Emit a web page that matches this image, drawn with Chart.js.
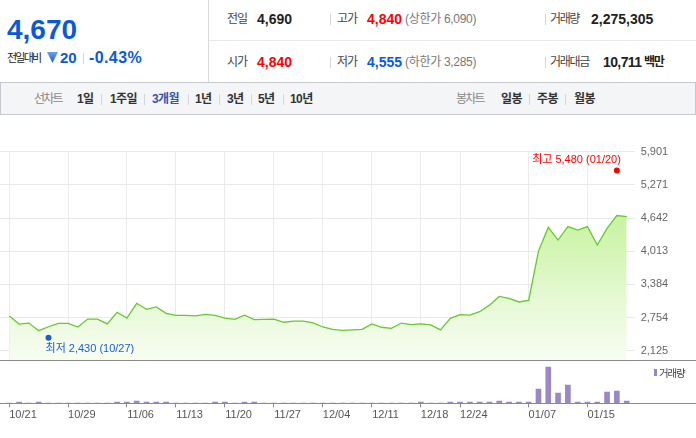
<!DOCTYPE html>
<html lang="ko">
<head>
<meta charset="utf-8">
<title>주가 차트</title>
<script src="https://cdn.jsdelivr.net/npm/chart.js@4.4.1/dist/chart.umd.min.js"></script>
<style>
  html, body { margin: 0; padding: 0; }
  body {
    width: 696px; height: 438px; overflow: hidden; position: relative; background: #fff;
    font-family: "Liberation Sans", "Noto Sans CJK KR", sans-serif; color: #333;
  }
  .t { position: absolute; white-space: nowrap; line-height: 20px; height: 20px; font-size: 12px; }
  .b { font-weight: bold; }
  .lbl { color: #444; letter-spacing: -1px; }
  .num { font-size: 14px; font-weight: bold; color: #222; }
  .sub { color: #777; letter-spacing: -0.3px; }
  .tb { font-weight: bold; color: #333; letter-spacing: -0.6px; }
  .sep { position: absolute; width: 1px; height: 11px; background: #d6d6d6; }
  .rule { position: absolute; left: 0; width: 696px; height: 1px; background: #8a8a8a; }
  canvas { position: absolute; left: 0; }
</style>
</head>
<body>

<!-- 시세 요약 -->
<div style="position:absolute;left:208px;top:0;width:1px;height:82px;background:#d9d9d9"></div>
<div style="position:absolute;left:209px;top:40px;width:487px;height:1px;background:#e9e9e9"></div>

<div class="t b" style="left:7px;top:15px;font-size:28px;line-height:30px;height:30px;color:#0a5ad6">4,670</div>
<div class="t" style="left:7px;top:48px;font-size:11px;letter-spacing:-1.8px;color:#222">전일대비</div>
<div style="position:absolute;left:47px;top:52px;width:11px;height:11px;clip-path:polygon(0 0,100% 0,50% 100%);background:linear-gradient(#6f9fe9,#1a5dd0)"></div>
<div class="t b" style="left:60px;top:48px;font-size:15px;color:#0a5ad6">20</div>
<div class="sep" style="left:83px;top:53px"></div>
<div class="t b" style="left:89px;top:48px;font-size:16px;letter-spacing:0.4px;color:#0a5ad6">-0.43%</div>

<div class="t lbl" style="left:227px;top:9px">전일</div>
<div class="t num" style="left:257px;top:9px">4,690</div>
<div class="sep" style="left:330px;top:14px"></div>
<div class="t lbl" style="left:337px;top:9px">고가</div>
<div class="t num" style="left:367px;top:9px;color:#f00">4,840</div>
<div class="t sub" style="left:405px;top:9px">(상한가 6,090)</div>
<div class="sep" style="left:545px;top:14px"></div>
<div class="t lbl" style="left:550px;top:9px;letter-spacing:-1.4px">거래량</div>
<div class="t num" style="left:591px;top:9px">2,275,305</div>

<div class="t lbl" style="left:227px;top:52px">시가</div>
<div class="t num" style="left:257px;top:52px;color:#f00">4,840</div>
<div class="sep" style="left:330px;top:57px"></div>
<div class="t lbl" style="left:337px;top:52px">저가</div>
<div class="t num" style="left:367px;top:52px;color:#0a5ad6">4,555</div>
<div class="t sub" style="left:405px;top:52px">(하한가 3,285)</div>
<div class="sep" style="left:545px;top:57px"></div>
<div class="t lbl" style="left:550px;top:52px;letter-spacing:-1.3px">거래대금</div>
<div class="t num" style="left:603px;top:52px;letter-spacing:-0.6px">10,711</div>
<div class="t b" style="left:644px;top:52px;letter-spacing:-1.2px;color:#222">백만</div>

<!-- 기간 / 차트 종류 -->
<div style="position:absolute;left:0;top:82px;width:694px;height:31px;background:#f4f5f7;border:1px solid #c6c8ce"></div>
<div class="t" style="left:34px;top:89px;color:#888;letter-spacing:-1.8px">선차트</div>
<div class="t tb" style="left:77px;top:89px">1일</div>
<div class="sep" style="left:101px;top:94px"></div>
<div class="t tb" style="left:110px;top:89px">1주일</div>
<div class="sep" style="left:144px;top:94px"></div>
<div class="t tb" style="left:152px;top:89px;color:#3654ad">3개월</div>
<div class="sep" style="left:188px;top:94px"></div>
<div class="t tb" style="left:195px;top:89px">1년</div>
<div class="sep" style="left:219px;top:94px"></div>
<div class="t tb" style="left:227px;top:89px">3년</div>
<div class="sep" style="left:251px;top:94px"></div>
<div class="t tb" style="left:258px;top:89px">5년</div>
<div class="sep" style="left:283px;top:94px"></div>
<div class="t tb" style="left:290px;top:89px">10년</div>

<div class="t" style="left:456px;top:89px;color:#888;letter-spacing:-1.8px">봉차트</div>
<div class="t tb" style="left:501px;top:89px">일봉</div>
<div class="sep" style="left:529px;top:94px"></div>
<div class="t tb" style="left:537px;top:89px">주봉</div>
<div class="sep" style="left:565px;top:94px"></div>
<div class="t tb" style="left:574px;top:89px">월봉</div>

<canvas id="price" width="696" height="247" style="top:115px"></canvas>
<canvas id="volume" width="696" height="77" style="top:361px"></canvas>
<div class="rule" style="top:360px"></div>
<div class="rule" style="top:403px"></div>

<div style="position:absolute;left:654px;top:369px;width:3px;height:7px;background:#9b87c6"></div>
<div class="t" style="left:659px;top:363px;font-size:10.5px;letter-spacing:-1.2px;color:#444">거래량</div>

<script>
// 2020-10-21 ~ 2021-01-21 거래일
const dates = [
  '10/21', '10/22', '10/23', '10/26', '10/27', '10/28', '10/29', '10/30',
  '11/02', '11/03', '11/04', '11/05', '11/06', '11/09', '11/10', '11/11', '11/12', '11/13',
  '11/16', '11/17', '11/18', '11/19', '11/20', '11/23', '11/24', '11/25', '11/26', '11/27', '11/30',
  '12/01', '12/02', '12/03', '12/04', '12/07', '12/08', '12/09', '12/10', '12/11',
  '12/14', '12/15', '12/16', '12/17', '12/18', '12/21', '12/22', '12/23', '12/24',
  '12/28', '12/29', '12/30',
  '01/04', '01/05', '01/06', '01/07', '01/08', '01/11', '01/12', '01/13', '01/14', '01/15',
  '01/18', '01/19', '01/20', '01/21'
];

// 종가
const closes = [
  2785, 2630, 2650, 2505, 2580, 2645, 2645, 2575,
  2725, 2725, 2635, 2855, 2745, 3025, 2910, 2955, 2835, 2795,
  2795, 2785, 2815, 2795, 2745, 2720, 2800, 2715, 2720, 2725, 2665,
  2685, 2685, 2655, 2575, 2530, 2510, 2520, 2530, 2635,
  2570, 2550, 2650, 2620, 2635, 2615, 2520, 2740, 2810,
  2800, 2865, 2990,
  3155, 3120, 3050, 3080, 4015, 4465, 4225, 4480, 4415, 4480,
  4130, 4445, 4690, 4670
];

// 거래량
const volumes = [
  150000, 1200000, 150000, 1200000, 150000, 150000, 150000, 150000,
  150000, 150000, 150000, 1200000, 1300000, 2300000, 1200000, 1200000, 1200000, 150000,
  150000, 150000, 150000, 1200000, 1200000, 150000, 1200000, 1200000, 150000, 150000, 150000,
  150000, 150000, 150000, 150000, 150000, 150000, 150000, 150000, 150000,
  150000, 150000, 150000, 150000, 1200000, 150000, 150000, 1200000, 1200000,
  1200000, 1200000, 1200000,
  2300000, 1200000, 1200000, 1200000, 14300000, 36300000, 10300000, 18300000, 1200000, 1200000,
  1200000, 11300000, 12300000, 2275305
];

const dateTicks = ['10/21', '10/29', '11/06', '11/13', '11/20', '11/27', '12/04', '12/11', '12/18', '12/24', '01/07', '01/15'];
const priceTicks = [2125, 2754, 3384, 4013, 4642, 5271, 5901];

const highPrice = 5480, highDate = '01/20';
const lowPrice = 2430, lowDate = '10/27';

const tickIdx = dateTicks.map(d => dates.indexOf(d));
const fmt = v => v.toLocaleString('en-US');
const FONT = '"Liberation Sans", "Noto Sans CJK KR", sans-serif';

// 축 크기를 고정해서 두 차트의 x 위치를 맞춤
function fixSize(w, h) {
  return s => {
    if (w != null) s.width = w;
    if (h != null) s.height = h;
    s.paddingLeft = s.paddingRight = s.paddingTop = s.paddingBottom = 0;
  };
}

function areaFill(c) {
  const a = c.chart.chartArea;
  if (!a) return 'rgba(0,0,0,0)';
  const g = c.chart.ctx.createLinearGradient(0, a.top, 0, a.bottom);
  g.addColorStop(0, '#b6ed82');
  g.addColorStop(0.35, '#cbf3a5');
  g.addColorStop(0.7, '#e5f9d3');
  g.addColorStop(1, '#f8fdf3');
  return g;
}

// 최고/최저 표시
const hiLoMarks = {
  id: 'hiLoMarks',
  afterDatasetsDraw(chart) {
    const { ctx, scales: { x, y } } = chart;
    const marks = [
      { d: highDate, p: highPrice, name: '최고', color: '#f00', dy: -3.5, align: 'right', tx: 4, ty: -10.5 },
      { d: lowDate, p: lowPrice, name: '최저', color: '#1a5fd3', dy: 3, align: 'left', tx: -3, ty: 11 }
    ];
    ctx.save();
    ctx.font = '11px ' + FONT;
    ctx.textBaseline = 'middle';
    marks.forEach(m => {
      const px = x.getPixelForValue(dates.indexOf(m.d));
      const py = y.getPixelForValue(m.p) + m.dy;
      ctx.fillStyle = m.color;
      ctx.beginPath();
      ctx.arc(px, py, 3, 0, Math.PI * 2);
      ctx.fill();
      ctx.textAlign = m.align;
      ctx.fillText(m.name + ' ' + fmt(m.p) + ' (' + m.d + ')', px + m.tx, py + m.ty);
    });
    ctx.restore();
  }
};

const xMin = -0.95, xMax = dates.length - 1 + 0.82;

new Chart(document.getElementById('price'), {
  type: 'line',
  data: {
    datasets: [{
      data: closes.map((c, i) => ({ x: i, y: c })),
      borderColor: '#66c92f',
      borderWidth: 1.3,
      pointRadius: 0,
      tension: 0,
      fill: 'start',
      backgroundColor: areaFill
    }]
  },
  options: {
    responsive: false,
    animation: false,
    layout: { padding: { top: 36.7, left: 0, right: 0, bottom: 0 } },
    plugins: { legend: { display: false }, tooltip: { enabled: false } },
    scales: {
      x: {
        type: 'linear', min: xMin, max: xMax,
        afterBuildTicks: s => { s.ticks = tickIdx.map(v => ({ value: v })); },
        ticks: { display: false },
        grid: { color: '#ebebeb', drawTicks: false },
        border: { display: false },
        afterFit: fixSize(null, 2)
      },
      y: {
        position: 'right', min: 1949, max: 5901,
        afterBuildTicks: s => { s.ticks = priceTicks.map(v => ({ value: v })); },
        ticks: { padding: 6, color: '#666', font: { size: 11, family: FONT }, callback: v => fmt(v) },
        grid: { color: '#e9e9e9', drawTicks: false },
        border: { display: false },
        afterFit: fixSize(61.3, null)
      }
    }
  },
  plugins: [hiLoMarks]
});

new Chart(document.getElementById('volume'), {
  type: 'bar',
  data: {
    datasets: [{
      data: volumes.map((v, i) => ({ x: i, y: v })),
      backgroundColor: '#9b87c6',
      barThickness: 5
    }]
  },
  options: {
    responsive: false,
    animation: false,
    layout: { padding: 0 },
    plugins: { legend: { display: false }, tooltip: { enabled: false } },
    scales: {
      x: {
        type: 'linear', min: xMin, max: xMax, offset: false,
        afterBuildTicks: s => { s.ticks = tickIdx.map(v => ({ value: v })); },
        ticks: {
          labelOffset: 13.7, padding: 1.5, color: '#555', maxRotation: 0, autoSkip: false,
          font: { size: 11, family: FONT },
          callback: v => dates[v]
        },
        grid: { offset: false, drawOnChartArea: false, drawTicks: true, tickLength: 4, tickColor: '#888' },
        border: { display: false },
        afterFit: fixSize(null, 34.7)
      },
      y: {
        position: 'right', min: 0, max: 42300000,
        ticks: { display: false },
        grid: { display: false },
        border: { display: false },
        afterFit: fixSize(61.3, null)
      }
    }
  }
});
</script>
</body>
</html>
